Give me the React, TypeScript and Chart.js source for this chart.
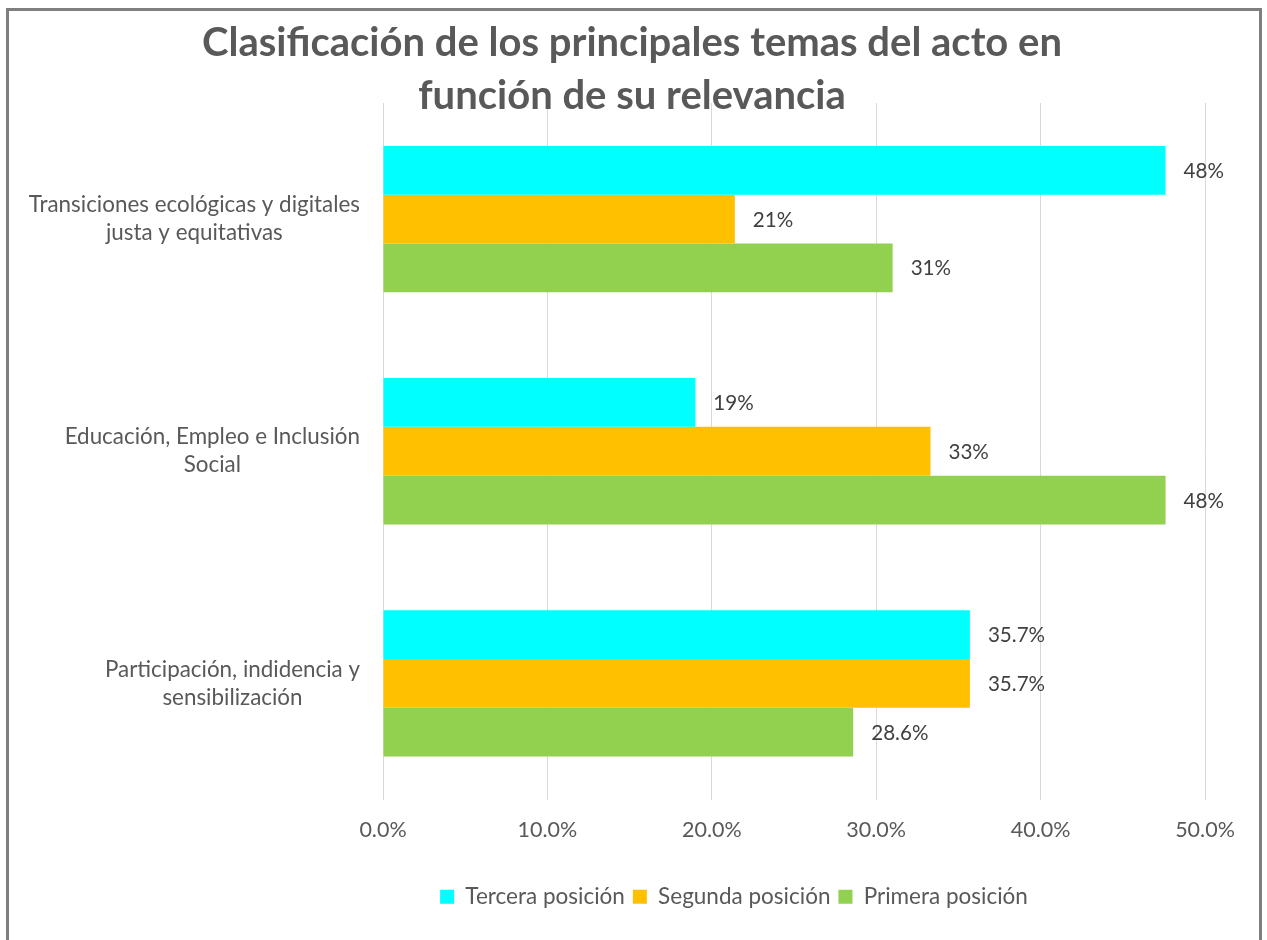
import React, { useEffect, useRef } from "react";
import { Chart, registerables } from "chart.js";

Chart.register(...registerables);

const titleLines = ["Clasificación de los principales temas del acto en", "función de su relevancia"];
const categoryLines = [
  ["Transiciones ecológicas y digitales", "justa y equitativas"],
  ["Educación, Empleo e Inclusión", "Social"],
  ["Participación, indidencia y", "sensibilización"],
];
const categories = categoryLines.map((l) => l.join(" "));
const seriesNames = ["Tercera posición", "Segunda posición", "Primera posición"];
const terceraValues = [47.6, 19.0, 35.7];
const segundaValues = [21.4, 33.3, 35.7];
const primeraValues = [31.0, 47.6, 28.6];
const terceraLabels = ["48%", "19%", "35.7%"];
const segundaLabels = ["21%", "33%", "35.7%"];
const primeraLabels = ["31%", "48%", "28.6%"];
const xTicks = [0, 10, 20, 30, 40, 50];
const colors = ["#00FFFF", "#FFC000", "#92D050"];

const FONT = "Lato, 'Open Sans', sans-serif";

export default function App() {
  const ref = useRef<HTMLCanvasElement | null>(null);
  useEffect(() => {
    if (!ref.current) return;
    const labelSets = [terceraLabels, segundaLabels, primeraLabels];
    const titlePlugin = {
      id: "titleDraw",
      afterDraw(chart: any) {
        const ctx = chart.ctx;
        ctx.save();
        ctx.fillStyle = "#595959";
        ctx.font = `bold 40px ${FONT}`;
        ctx.textAlign = "center";
        ctx.textBaseline = "alphabetic";
        const cx = chart.width / 2 - 2;
        ctx.fillText(titleLines[0], cx, 45);
        ctx.fillText(titleLines[1], cx, 98);
        ctx.restore();
      },
    };
    const legendShift = {
      id: "legendShift",
      afterLayout(chart: any) {
        const lg = chart.legend;
        if (lg) {
          lg.left += 127;
          lg.right += 127;
        }
      },
    };
    const catPlugin = {
      id: "catLabels",
      afterDraw(chart: any) {
        const ctx = chart.ctx;
        const ys = chart.scales.y;
        ctx.save();
        ctx.fillStyle = "#595959";
        ctx.font = `22.4px ${FONT}`;
        ctx.textAlign = "center";
        ctx.textBaseline = "middle";
        const right = chart.chartArea.left - 23;
        categoryLines.forEach((lines, i) => {
          const y = ys.getPixelForValue(i);
          const w = Math.max(...lines.map((l) => ctx.measureText(l).width));
          const cx = right - w / 2;
          const lh = 28;
          const y0 = y - ((lines.length - 1) * lh) / 2;
          lines.forEach((l, j) => ctx.fillText(l, cx, y0 + j * lh));
        });
        ctx.restore();
      },
    };
    const dataLabelPlugin = {
      id: "dataLabels",
      afterDatasetsDraw(chart: any) {
        const ctx = chart.ctx;
        ctx.save();
        ctx.fillStyle = "#404040";
        ctx.font = `20.6px ${FONT}`;
        ctx.textAlign = "left";
        ctx.textBaseline = "middle";
        chart.data.datasets.forEach((_: any, di: number) => {
          const meta = chart.getDatasetMeta(di);
          meta.data.forEach((el: any, i: number) => {
            ctx.fillText(labelSets[di][i], el.x + 18, el.y + 1);
          });
        });
        ctx.restore();
      },
    };
    const chart = new Chart(ref.current, {
      type: "bar",
      data: {
        labels: categories,
        datasets: [
          { label: seriesNames[0], data: terceraValues, backgroundColor: colors[0] },
          { label: seriesNames[1], data: segundaValues, backgroundColor: colors[1] },
          { label: seriesNames[2], data: primeraValues, backgroundColor: colors[2] },
        ],
      },
      options: {
        indexAxis: "y",
        animation: false,
        responsive: true,
        maintainAspectRatio: false,
        layout: { padding: { top: 92, right: 54, bottom: 49, left: 0 } },
        datasets: { bar: { categoryPercentage: 0.63, barPercentage: 1.0 } },
        scales: {
          x: {
            min: 0,
            max: 50,
            afterBuildTicks: (s: any) => {
              s.ticks = xTicks.map((v) => ({ value: v }));
            },
            afterFit: (s: any) => {
              s.height = 78;
            },
            grid: { color: "#d9d9d9", lineWidth: 1, drawTicks: false },
            border: { display: false },
            ticks: {
              padding: 18,
              color: "#595959",
              font: { family: FONT, size: 21.5 },
              callback: (v: any) => Number(v).toFixed(1) + "%",
            },
          },
          y: {
            grid: { display: false },
            border: { display: false },
            ticks: { display: false },
            afterFit: (s: any) => {
              s.width = 374;
            },
          },
        },
        plugins: {
          title: { display: false },
          tooltip: { enabled: false },
          legend: {
            position: "bottom",
            labels: {
              boxWidth: 14,
              boxHeight: 14,
              padding: 8,
              color: "#595959",
              font: { family: FONT, size: 22.5 },
            },
          },
        },
      },
      plugins: [titlePlugin, legendShift, catPlugin, dataLabelPlugin],
    } as any);
    return () => chart.destroy();
  }, []);
  return (
    <div
      style={{
        position: "absolute",
        left: 6,
        top: 8,
        width: 1256,
        height: 962,
        border: "3px solid #7f7f7f",
        boxSizing: "border-box",
        background: "#fff",
      }}
    >
      <div style={{ position: "relative", width: 1250, height: 956 }}>
        <canvas ref={ref} />
      </div>
    </div>
  );
}
